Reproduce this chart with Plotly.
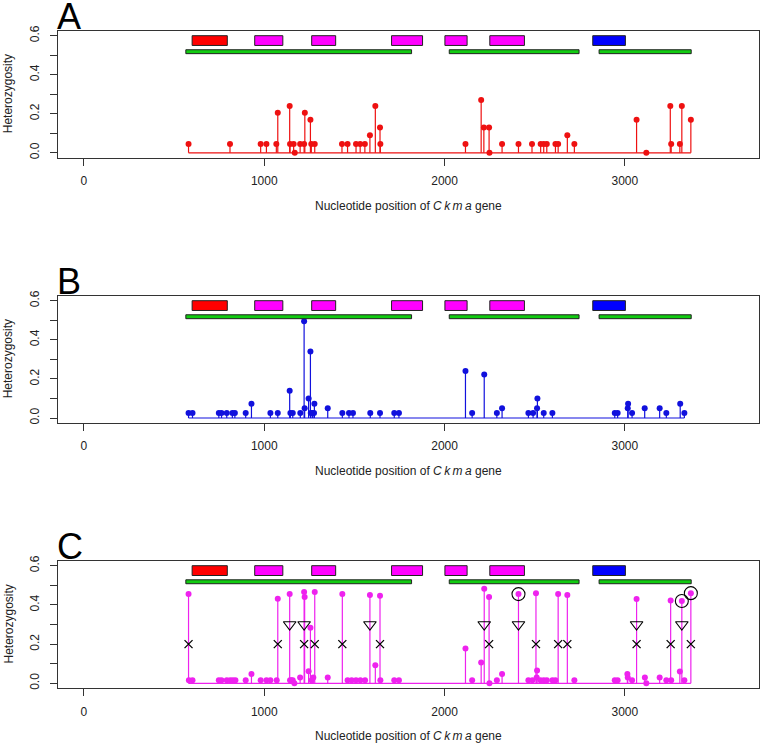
import plotly.graph_objects as go

# ---------------- data ----------------
# Panel A (red)
A_pos = [580, 810, 980, 1012, 1067, 1075, 1141, 1143, 1163, 1169, 1199, 1221, 1225, 1256, 1261, 1280,
         1431, 1462, 1509, 1532, 1558, 1586, 1616, 1642, 1644, 2116, 2203, 2218, 2247, 2249, 2319,
         2410, 2485, 2533, 2550, 2567, 2615, 2630, 2681, 2720, 3065, 3119, 3252, 3257, 3305, 3316, 3366]
A_het = [0.045, 0.045, 0.045, 0.045, 0.045, 0.205, 0.24, 0.045, 0.045, 0.0, 0.045, 0.045, 0.205, 0.17, 0.045, 0.045,
         0.045, 0.045, 0.045, 0.045, 0.045, 0.09, 0.24, 0.13, 0.045, 0.045, 0.27, 0.13, 0.13, 0.0, 0.045,
         0.045, 0.045, 0.045, 0.045, 0.045, 0.045, 0.045, 0.09, 0.045, 0.17, 0.0, 0.24, 0.045, 0.045, 0.24, 0.17]

# Panel B (blue)
B_pos = [580, 602, 748, 763, 792, 823, 837, 897, 929, 1034, 1075, 1141, 1145, 1158, 1200, 1221, 1224,
         1246, 1256, 1258, 1267, 1276, 1278, 1352, 1433, 1470, 1492, 1588, 1642, 1721, 1747, 2116, 2153,
         2220, 2290, 2319, 2465, 2491, 2513, 2515, 2550, 2598, 2944, 2960, 3016, 3018, 3040, 3110, 3193,
         3230, 3307, 3330]
B_het = [0.025, 0.025, 0.025, 0.025, 0.025, 0.025, 0.025, 0.025, 0.073, 0.025, 0.025, 0.14, 0.025, 0.025, 0.025, 0.495, 0.05,
         0.1, 0.34, 0.025, 0.025, 0.025, 0.073, 0.05, 0.025, 0.025, 0.025, 0.025, 0.025, 0.025, 0.025, 0.24, 0.025,
         0.222, 0.025, 0.05, 0.025, 0.025, 0.05, 0.1, 0.025, 0.025, 0.025, 0.025, 0.05, 0.073, 0.025, 0.05, 0.05,
         0.025, 0.073, 0.025]

# Panel C (magenta)
C_pos = [580, 582, 602, 748, 763, 792, 811, 826, 840, 897, 929, 980, 1012, 1034, 1069, 1075,
         1141, 1143, 1150, 1158, 1167, 1199, 1221, 1224, 1246, 1256, 1263, 1272, 1280, 1352, 1433,
         1462, 1485, 1509, 1533, 1559, 1586, 1616, 1642, 1644, 1721, 1747,
         2116, 2153, 2203, 2220, 2247, 2249, 2290, 2319, 2410, 2465, 2487, 2507, 2511, 2513,
         2532, 2550, 2567, 2598, 2615, 2630, 2681, 2720, 2944, 2960, 3014, 3016, 3040, 3065,
         3111, 3119, 3193, 3230, 3254, 3257, 3305, 3316, 3330, 3366]
C_het = [0.455, 0.015, 0.015, 0.015, 0.015, 0.015, 0.015, 0.015, 0.015, 0.015, 0.047, 0.015, 0.015, 0.015, 0.015, 0.432,
         0.455, 0.015, 0.015, 0.015, 0.0, 0.03, 0.466, 0.44, 0.061, 0.284, 0.015, 0.03, 0.466, 0.03, 0.455,
         0.015, 0.015, 0.015, 0.015, 0.015, 0.45, 0.092, 0.447, 0.015, 0.015, 0.015,
         0.177, 0.015, 0.106, 0.483, 0.44, 0.0, 0.015, 0.047, 0.455, 0.015, 0.015, 0.46, 0.03, 0.065,
         0.015, 0.015, 0.015, 0.015, 0.015, 0.455, 0.45, 0.015, 0.015, 0.015, 0.047, 0.03, 0.015, 0.43,
         0.03, 0.0, 0.03, 0.015, 0.422, 0.015, 0.06, 0.42, 0.015, 0.46]

# Panel C symbol annotations
C_cross_pos = [580, 1075, 1221, 1280, 1433, 1642, 2247, 2507, 2630, 2681, 3065, 3254, 3366]
C_cross_level = 0.2
C_tri_pos = [1141, 1221, 1586, 2220, 2410, 3065, 3316]
C_tri_level = 0.3
C_circle_pos = [2410, 3316, 3366]

# Gene structure features
feat_start = [600, 947, 1263, 1706, 2002, 2251, 2822]
feat_end = [795, 1103, 1396, 1878, 2125, 2443, 3003]
feat_color = ["#FF0000", "#FF00FF", "#FF00FF", "#FF00FF", "#FF00FF", "#FF00FF", "#0000FF"]
green_start = [565, 2026, 2857]
green_end = [1817, 2746, 3368]

panel_labels = ["A", "B", "C"]
xtick_vals = [0, 1000, 2000, 3000]
ytick_vals = [0, 0.1, 0.2, 0.3, 0.4, 0.5, 0.6]
ytick_text = ["0.0", "", "0.2", "", "0.4", "", "0.6"]

# ---------------- figure ----------------
FONT = "Liberation Sans, Arial, Helvetica, sans-serif"
W, H = 761, 744
ML, MR, MT, MB = 58, 2, 31, 56
PH = H - MT - MB

def frac(px):
    return (H - MB - px) / PH

panel_px = [(31, 157.5), (296, 422.7), (561, 688)]
domains = [[max(0, frac(b)), min(1, frac(t))] for t, b in panel_px]

fig = go.Figure()
panels = [(A_pos, A_het, "#EE1111"), (B_pos, B_het, "#1111DD"), (C_pos, C_het, "#EE22EE")]

shapes = []
annotations = []
for i, (pos, het, col) in enumerate(panels):
    xa = "x" if i == 0 else f"x{i+1}"
    ya = "y" if i == 0 else f"y{i+1}"
    # baseline
    fig.add_trace(go.Scatter(x=[min(pos), max(pos)], y=[0, 0], mode="lines",
                             line=dict(color=col, width=1.2), xaxis=xa, yaxis=ya,
                             showlegend=False, hoverinfo="skip"))
    # stems
    sx, sy = [], []
    for p, h in zip(pos, het):
        sx += [p, p, None]
        sy += [0, h, None]
    fig.add_trace(go.Scatter(x=sx, y=sy, mode="lines", line=dict(color=col, width=1.2),
                             xaxis=xa, yaxis=ya, showlegend=False, hoverinfo="skip"))
    fig.add_trace(go.Scatter(x=pos, y=het, mode="markers",
                             marker=dict(color=col, size=6, line=dict(width=0)),
                             xaxis=xa, yaxis=ya, showlegend=False))
    # features
    for s, e, c in zip(feat_start, feat_end, feat_color):
        shapes.append(dict(type="rect", xref=xa, yref=ya, x0=s, x1=e, y0=0.55, y1=0.60,
                           fillcolor=c, line=dict(color="#222222", width=1)))
    for s, e in zip(green_start, green_end):
        shapes.append(dict(type="rect", xref=xa, yref=ya, x0=s, x1=e, y0=0.508, y1=0.528,
                           fillcolor="#11CC11", line=dict(color="#222222", width=1)))
    t, b = panel_px[i]
    # panel letter
    annotations.append(dict(text=panel_labels[i], xref="paper", yref="paper", x=0, y=frac(t - 15),
                            xanchor="left", yanchor="middle", showarrow=False, xshift=-3,
                            font=dict(family=FONT, size=36, color="black")))
    # y title
    annotations.append(dict(text="Heterozygosity", xref="paper", yref="paper",
                            x=(8 - ML) / (W - ML - MR), y=frac((t + b) / 2), textangle=-90,
                            xanchor="center", yanchor="middle", showarrow=False,
                            font=dict(family=FONT, size=12, color="#222")))
    # x title
    annotations.append(dict(text="Nucleotide position of <i>C\u2009k\u2009m\u2009a</i> gene",
                            xref="paper", yref="paper", x=0.5, y=frac(b + 48),
                            xanchor="center", yanchor="middle", showarrow=False,
                            font=dict(family=FONT, size=12, color="#222")))

# panel C symbols
lookup = dict(zip(C_pos, C_het))
fig.add_trace(go.Scatter(x=C_cross_pos, y=[C_cross_level] * len(C_cross_pos), mode="markers",
                         marker=dict(symbol="x-thin", size=8, line=dict(color="black", width=1.3)),
                         xaxis="x3", yaxis="y3", showlegend=False))
fig.add_trace(go.Scatter(x=C_tri_pos, y=[C_tri_level] * len(C_tri_pos), mode="markers",
                         marker=dict(symbol="triangle-down-open", size=11, color="black",
                                     line=dict(color="black", width=1.1)),
                         xaxis="x3", yaxis="y3", showlegend=False))
fig.add_trace(go.Scatter(x=C_circle_pos, y=[lookup[p] for p in C_circle_pos], mode="markers",
                         marker=dict(symbol="circle-open", size=13, color="black",
                                     line=dict(color="black", width=1.1)),
                         xaxis="x3", yaxis="y3", showlegend=False))

axis_common = dict(showline=True, mirror=True, linecolor="#333", linewidth=1.3,
                   ticks="outside", ticklen=7, tickcolor="#333", tickwidth=1.2,
                   showgrid=False, zeroline=False, automargin=False,
                   tickfont=dict(family=FONT, size=12, color="#222"))
layout = dict(width=W, height=H, margin=dict(l=ML, r=MR, t=MT, b=MB, autoexpand=False),
              plot_bgcolor="white", paper_bgcolor="white",
              shapes=shapes, annotations=annotations, showlegend=False)
for i in range(3):
    xk = "xaxis" if i == 0 else f"xaxis{i+1}"
    yk = "yaxis" if i == 0 else f"yaxis{i+1}"
    ya = "y" if i == 0 else f"y{i+1}"
    xa = "x" if i == 0 else f"x{i+1}"
    layout[xk] = dict(axis_common, range=[-144, 3744], tickvals=xtick_vals,
                      ticktext=[str(v) for v in xtick_vals], anchor=ya, domain=[0, 1],
                      ticklabelstandoff=5)
    layout[yk] = dict(axis_common, range=[-0.024, 0.624], tickvals=ytick_vals, ticktext=ytick_text,
                      tickangle=-90, anchor=xa, domain=domains[i], ticklabelstandoff=6)
fig.update_layout(**layout)
fig.write_html("out.html", config={"displayModeBar": False},
               post_script="document.body.style.margin='0';document.body.style.overflow='hidden';")
